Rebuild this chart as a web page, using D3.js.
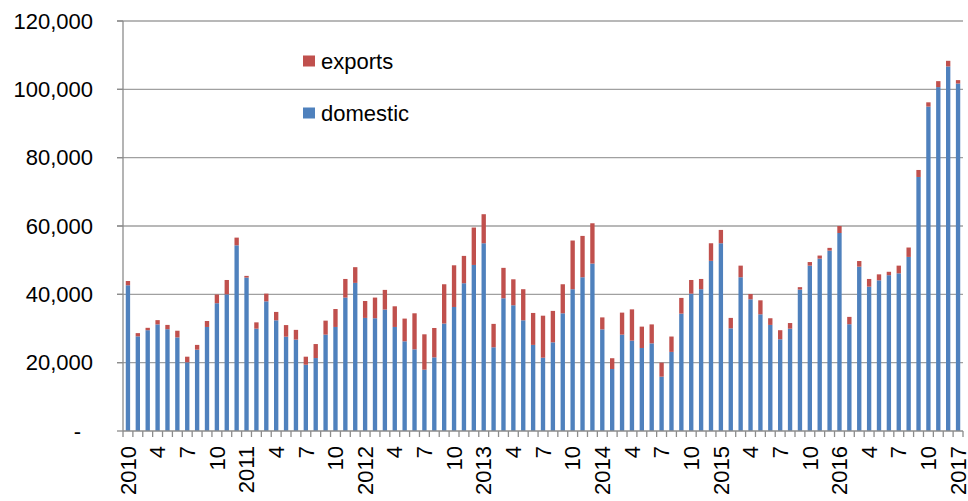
<!DOCTYPE html>
<html>
<head>
<meta charset="utf-8">
<script src="https://cdn.jsdelivr.net/npm/d3@7"></script>
<style>
  body { margin: 0; background: #fff; }
  text { font-family: "Liberation Sans", Arial, sans-serif; fill: #000; }
</style>
</head>
<body>
<script>
// monthly, Jan 2010 .. Jan 2017
const monthLabels = [
  "2010", "", "", "4", "", "", "7", "", "", "10", "", "",
  "2011", "", "", "4", "", "", "7", "", "", "10", "", "",
  "2012", "", "", "4", "", "", "7", "", "", "10", "", "",
  "2013", "", "", "4", "", "", "7", "", "", "10", "", "",
  "2014", "", "", "4", "", "", "7", "", "", "10", "", "",
  "2015", "", "", "4", "", "", "7", "", "", "10", "", "",
  "2016", "", "", "4", "", "", "7", "", "", "10", "", "",
  "2017"
];

const domestic = [
  42650, 27700, 29500, 31200, 29800, 27400, 20100, 23800, 30450, 37400, 40000, 54350,
  44900, 29950, 37950, 32400, 27600, 26750, 19400, 21350, 28200, 30450, 39050, 43350,
  33100, 33000, 35550, 30450, 26250, 23900, 17950, 21550, 31450, 36300, 43250, 48600,
  54950, 24500, 38850, 36800, 32400, 25200, 21450, 25950, 34450, 41500, 45000, 49000,
  29750, 18150, 28200, 26450, 24300, 25650, 15900, 23150, 34350, 40200, 41500, 49800,
  54950, 30050, 45000, 38550, 34150, 31050, 26850, 29950, 41400, 48400, 50450, 52800,
  57950, 31250, 48100, 42250, 44100, 45600, 46150, 50950, 74350, 94950, 100650, 106700,
  101700
];

const exportsV = [
  1250, 950, 700, 1250, 1250, 1950, 1650, 1400, 1750, 2550, 4200, 2250,
  500, 1850, 2250, 2450, 3400, 2850, 2350, 4100, 4100, 5250, 5450, 4600,
  4950, 6050, 5750, 6050, 6650, 10550, 10350, 8600, 11500, 12200, 8000, 10950,
  8500, 6850, 8900, 7600, 9100, 9350, 12300, 9200, 8500, 14250, 12100, 11800,
  3500, 3150, 6450, 9150, 6250, 5550, 4100, 4500, 4600, 4000, 3000, 5150,
  3900, 3050, 3400, 1550, 4100, 1950, 2650, 1650, 700, 1050, 900, 800,
  2050, 2150, 1650, 2250, 1750, 1000, 2250, 2750, 2050, 1250, 1750, 1650,
  1000
];

const seriesNames = ["domestic", "exports"];
const seriesColors = ["#4f81bd", "#c0504d"];
const yTicks = [0, 20000, 40000, 60000, 80000, 100000, 120000];
const yTickLabels = ["-", "20,000", "40,000", "60,000", "80,000", "100,000", "120,000"];

const W = 968, H = 501;
const margin = { top: 21, right: 5, bottom: 70, left: 123 };

const svg = d3.select("body").append("svg")
    .attr("width", W)
    .attr("height", H);

const rows = monthLabels.map((m, i) => ({ i: i, label: m, domestic: domestic[i], exports: exportsV[i] }));

const x = d3.scaleBand()
    .domain(rows.map(d => d.i))
    .range([margin.left, W - margin.right])
    .paddingInner(0.56)
    .paddingOuter(0.28);

const y = d3.scaleLinear()
    .domain([0, 120000])
    .range([H - margin.bottom, margin.top]);

// gridlines
svg.append("g")
    .selectAll("line")
    .data(yTicks.slice(1))
    .enter().append("line")
    .attr("x1", margin.left - 6)
    .attr("x2", W - margin.right)
    .attr("y1", d => y(d))
    .attr("y2", d => y(d))
    .attr("stroke", "#a0a0a0")
    .attr("stroke-width", 1.4);

// stacked bars
const stack = d3.stack().keys(seriesNames);
const layers = stack(rows);

svg.append("g")
    .selectAll("g")
    .data(layers)
    .enter().append("g")
    .attr("fill", (d, k) => seriesColors[k])
    .selectAll("rect")
    .data(d => d)
    .enter().append("rect")
    .attr("x", d => x(d.data.i))
    .attr("width", x.bandwidth())
    .attr("y", d => y(d[1]))
    .attr("height", d => y(d[0]) - y(d[1]));

// y axis
const yAxis = svg.append("g");
yAxis.append("line")
    .attr("x1", margin.left).attr("x2", margin.left)
    .attr("y1", y(120000)).attr("y2", y(0))
    .attr("stroke", "#8c8c8c").attr("stroke-width", 1.3);
yAxis.selectAll("line.tick")
    .data(yTicks)
    .enter().append("line")
    .attr("class", "tick")
    .attr("x1", margin.left - 6).attr("x2", margin.left)
    .attr("y1", d => y(d)).attr("y2", d => y(d))
    .attr("stroke", "#8c8c8c").attr("stroke-width", 1.3);
yAxis.selectAll("text")
    .data(yTicks)
    .enter().append("text")
    .attr("x", (d, k) => yTickLabels[k] === "-" ? 81 : 93)
    .attr("y", d => y(d))
    .attr("dy", "0.35em")
    .attr("text-anchor", "end")
    .style("font-size", "22px")
    .text((d, k) => yTickLabels[k]);

// x axis
const x0 = x.range()[0];
const xAxis = svg.append("g");
xAxis.append("line")
    .attr("x1", margin.left).attr("x2", W - margin.right)
    .attr("y1", y(0)).attr("y2", y(0))
    .attr("stroke", "#8c8c8c").attr("stroke-width", 1.3);
xAxis.selectAll("line.tick")
    .data(d3.range(rows.length + 1))
    .enter().append("line")
    .attr("class", "tick")
    .attr("x1", d => x0 + d * x.step())
    .attr("x2", d => x0 + d * x.step())
    .attr("y1", y(0)).attr("y2", y(0) + 6)
    .attr("stroke", "#8c8c8c").attr("stroke-width", 1.3);
xAxis.selectAll("text")
    .data(rows.filter(d => d.label !== ""))
    .enter().append("text")
    .attr("transform", d => "translate(" + (x(d.i) + x.bandwidth() / 2) + "," + (y(0) + 15) + ") rotate(-90)")
    .attr("dy", "0.35em")
    .attr("text-anchor", "end")
    .style("font-size", "22px")
    .text(d => d.label);

// legend
const legendItems = [
  { name: "exports", color: seriesColors[1], cy: 61 },
  { name: "domestic", color: seriesColors[0], cy: 113 }
];
const legend = svg.append("g")
    .selectAll("g")
    .data(legendItems)
    .enter().append("g")
    .attr("transform", d => "translate(303," + d.cy + ")");
legend.append("rect")
    .attr("x", 0).attr("y", -5.5)
    .attr("width", 12).attr("height", 11)
    .attr("fill", d => d.color);
legend.append("text")
    .attr("x", 18)
    .attr("dy", "0.35em")
    .style("font-size", "22px")
    .text(d => d.name);
</script>
</body>
</html>
